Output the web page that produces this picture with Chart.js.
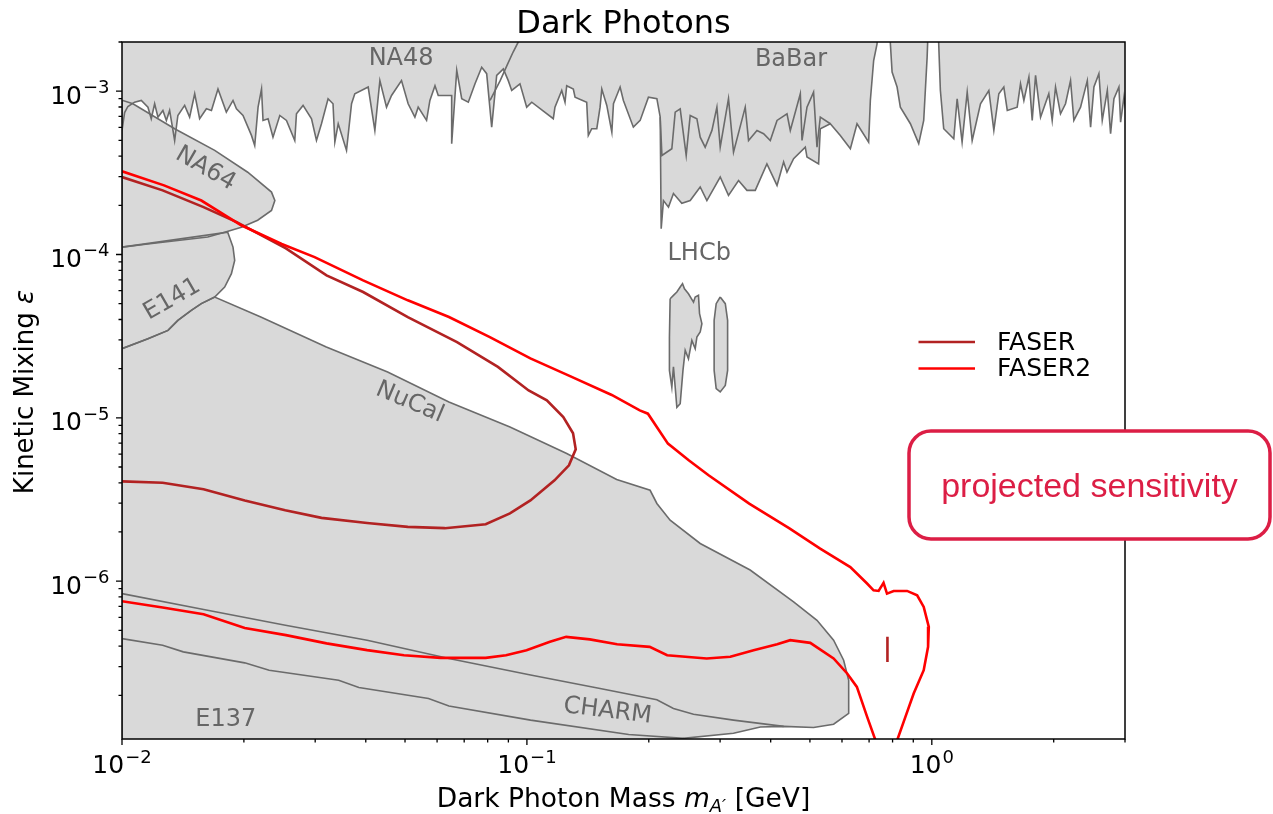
<!DOCTYPE html>
<html>
<head>
<meta charset="utf-8">
<title>Dark Photons</title>
<script src="https://cdn.jsdelivr.net/npm/chart.js@4.4.1/dist/chart.umd.min.js"></script>
<style>
  html, body { margin: 0; padding: 0; background: #fff; }
</style>
</head>
<body>
<canvas id="myChart" width="1273" height="814"></canvas>
<script>
// ---- data: dark photon mass [GeV] and kinetic mixing epsilon ----

// NA48 / BaBar / KLOE combined upper exclusion (lower edge, filled up to the top)
const topMass = [0.01, 0.01015, 0.01034, 0.01074, 0.01116, 0.01159, 0.01181, 0.01204, 0.01227, 0.01262, 0.01287, 0.01311, 0.01349, 0.01374, 0.01428, 0.01469, 0.01512, 0.01555, 0.01616, 0.01663, 0.01726, 0.0181, 0.0188, 0.01917, 0.0199, 0.02088, 0.02127, 0.02168, 0.02211, 0.0223, 0.02295, 0.0236, 0.02453, 0.02548, 0.02671, 0.02697, 0.028, 0.02938, 0.03022, 0.03109, 0.03228, 0.0332, 0.03355, 0.0342, 0.03585, 0.03689, 0.03758, 0.04055, 0.04212, 0.04334, 0.04501, 0.04631, 0.04901, 0.0509, 0.05289, 0.05389, 0.05652, 0.0576, 0.05929, 0.0604, 0.06518, 0.0652, 0.0671, 0.06902, 0.07166, 0.07444, 0.07733, 0.07955, 0.08185, 0.08421, 0.08745, 0.08995, 0.09172, 0.09614, 0.09988, 0.1028, 0.1162, 0.1173, 0.1219, 0.1242, 0.1254, 0.1302, 0.1315, 0.1405, 0.1418, 0.1446, 0.1488, 0.1516, 0.1531, 0.1575, 0.1621, 0.1636, 0.1699, 0.1731, 0.1832, 0.1904, 0.1996, 0.2094, 0.2134, 0.2146, 0.2174, 0.2237, 0.2301, 0.2413, 0.2531, 0.2679, 0.2783, 0.3002, 0.3147, 0.3332, 0.3495, 0.3664, 0.3915, 0.4147, 0.4305, 0.4389, 0.4557, 0.487, 0.4917, 0.5253, 0.5304, 0.5614, 0.5943, 0.6293, 0.6536, 0.6982, 0.705, 0.7184, 0.7324, 0.738, 0.7856, 0.7901, 0.7978, 0.8208, 0.8362, 0.8853, 0.9282, 0.955, 0.9737, 0.9826, 1.0354, 1.04, 1.05, 1.07, 1.133, 1.155, 1.188, 1.223, 1.258, 1.319, 1.383, 1.423, 1.464, 1.506, 1.536, 1.625, 1.656, 1.688, 1.737, 1.77, 1.804, 1.856, 1.945, 1.983, 2.021, 2.079, 2.139, 2.201, 2.243, 2.33, 2.421, 2.467, 2.514, 2.586, 2.636, 2.713, 2.764, 2.817, 2.898, 2.926, 2.982, 3.04];
const topEps = [5.75e-4, 7.4e-4, 8.06e-4, 8.56e-4, 8.77e-4, 7.98e-4, 6.78e-4, 8.37e-4, 6.93e-4, 7.62e-4, 6.62e-4, 7.62e-4, 4.99e-4, 7.1e-4, 8.18e-4, 6.93e-4, 9.64e-4, 6.78e-4, 7.8e-4, 7.62e-4, 1.03e-3, 7.44e-4, 8.77e-4, 7.8e-4, 7.1e-4, 5.36e-4, 4.65e-4, 7.98e-4, 1.03e-3, 6.62e-4, 6.78e-4, 5.23e-4, 7.1e-4, 6.62e-4, 4.99e-4, 7.27e-4, 8.18e-4, 6.78e-4, 4.99e-4, 6.32e-4, 8.99e-4, 8.37e-4, 4.88e-4, 6.32e-4, 4.34e-4, 8.37e-4, 9.64e-4, 1.06e-3, 5.75e-4, 1.16e-3, 7.98e-4, 9.41e-4, 1.16e-3, 8.37e-4, 6.93e-4, 7.98e-4, 6.62e-4, 8.77e-4, 1.08e-3, 9.41e-4, 9.41e-4, 4.77e-4, 1.34e-3, 8.99e-4, 8.56e-4, 1.11e-3, 1.4e-3, 1.28e-3, 6.02e-4, 1.25e-3, 1.37e-3, 1.16e-3, 1.01e-3, 1.11e-3, 7.98e-4, 8.56e-4, 6.78e-4, 7.98e-4, 1.01e-3, 8.56e-4, 1.08e-3, 1.03e-3, 9.19e-4, 8.56e-4, 5.36e-4, 5.89e-4, 5.89e-4, 7.98e-4, 1.03e-3, 8.18e-4, 5.61e-4, 8.37e-4, 1.06e-3, 8.77e-4, 6.02e-4, 6.62e-4, 9.19e-4, 8.99e-4, 6.93e-4, 1.44e-4, 2.14e-4, 1.95e-4, 2.36e-4, 2.06e-4, 2.14e-4, 2.59e-4, 2.14e-4, 2.98e-4, 2.3e-4, 2.84e-4, 2.47e-4, 2.47e-4, 3.59e-4, 2.65e-4, 3.68e-4, 3.19e-4, 3.86e-4, 4.54e-4, 3.95e-4, 3.59e-4, 5.89e-4, 6.32e-4, 5.36e-4, 4.44e-4, 6.32e-4, 4.88e-4, 8.77e-4, 1.54e-3, 1.95e-3, 3e-3, 3e-3, 1.95e-3, 1.31e-3, 1.06e-3, 7.98e-4, 6.32e-4, 4.77e-4, 6.62e-4, 1.61e-3, 3e-3, 3e-3, 1.95e-3, 1.01e-3, 5.89e-4, 5.11e-4, 8.99e-4, 4.88e-4, 9.86e-4, 4.99e-4, 8.37e-4, 1.01e-3, 5.75e-4, 9.64e-4, 1.06e-3, 7.62e-4, 7.98e-4, 1.11e-3, 8.77e-4, 1.22e-3, 6.62e-4, 1.25e-3, 6.93e-4, 9.64e-4, 6.62e-4, 1.06e-3, 7.27e-4, 8.37e-4, 1.16e-3, 6.62e-4, 7.98e-4, 1.16e-3, 6.02e-4, 1.06e-3, 1.28e-3, 6.62e-4, 1.01e-3, 5.49e-4, 8.99e-4, 1.06e-3, 6.46e-4, 9.19e-4, 6.46e-4];

// BaBar edge drawn inside the shaded band
const babarMass = [0.2134, 0.2155, 0.228, 0.2324, 0.2391, 0.2474, 0.2531, 0.2629, 0.2679, 0.2756, 0.2864, 0.2946, 0.3002, 0.3147, 0.3238, 0.3461, 0.3527, 0.37, 0.3842, 0.3991, 0.4147, 0.4389, 0.4472, 0.4734, 0.478, 0.4917, 0.5105, 0.5205, 0.5304, 0.5614];
const babarEps = [6.93e-4, 4.04e-4, 4.44e-4, 7.44e-4, 7.8e-4, 4.04e-4, 7.1e-4, 6.78e-4, 5.23e-4, 4.54e-4, 5.75e-4, 7.98e-4, 4.54e-4, 8.99e-4, 4.23e-4, 7.98e-4, 4.99e-4, 5.75e-4, 5.49e-4, 4.99e-4, 6.62e-4, 7.27e-4, 5.75e-4, 9.64e-4, 4.99e-4, 7.98e-4, 9.86e-4, 4.54e-4, 6.93e-4, 6.32e-4];

// NA48 end edge
const na48Mass = [0.0811, 0.0859, 0.0893, 0.0924, 0.0951, 0.0967];
const na48Eps = [8.77e-4, 1.16e-3, 1.44e-3, 1.73e-3, 1.99e-3, 2.4e-3];

// LHCb islands
const lhcbAMass = [0.2258, 0.2301, 0.2346, 0.2391, 0.2423, 0.245, 0.2506, 0.2579, 0.2604, 0.2653, 0.2669, 0.2705, 0.2679, 0.2629, 0.2604, 0.2555, 0.2506, 0.246, 0.2429, 0.2391, 0.2346, 0.2324, 0.2301, 0.228, 0.2249, 0.2249, 0.2258];
const lhcbAEps = [5.36e-5, 5.62e-5, 5.89e-5, 6.32e-5, 6.63e-5, 6.17e-5, 5.75e-5, 5.11e-5, 5.49e-5, 5.62e-5, 4.34e-5, 3.77e-5, 3.35e-5, 3.12e-5, 2.65e-5, 2.98e-5, 2.3e-5, 2.59e-5, 1.95e-5, 1.22e-5, 1.16e-5, 1.54e-5, 2.05e-5, 1.54e-5, 1.95e-5, 3.12e-5, 5.36e-5];
const lhcbBMass = [0.3002, 0.309, 0.3131, 0.3131, 0.309, 0.3002, 0.2934, 0.29, 0.29, 0.2934, 0.3002];
const lhcbBEps = [5.49e-5, 5.0e-5, 3.95e-5, 1.95e-5, 1.58e-5, 1.44e-5, 1.51e-5, 1.95e-5, 3.95e-5, 5.0e-5, 5.49e-5];

// NA64
const na64Mass = [0.01, 0.01064, 0.01349, 0.01694, 0.02044, 0.0234, 0.02385, 0.0234, 0.02163, 0.01972, 0.01793, 0.01628, 0.01157, 0.01, 0.01];
const na64Eps = [8.8e-4, 8.37e-4, 5.89e-4, 4.34e-4, 3.19e-4, 2.41e-4, 2.14e-4, 1.86e-4, 1.62e-4, 1.47e-4, 1.37e-4, 1.28e-4, 1.16e-4, 1.11e-4, 8.8e-4];

// E141
const e141Mass = [0.01, 0.01824, 0.0188, 0.01898, 0.01863, 0.01793, 0.01694, 0.0157, 0.01483, 0.01374, 0.01299, 0.01159, 0.01, 0.01];
const e141Eps = [1.11e-4, 1.37e-4, 1.11e-4, 9.2e-5, 7.63e-5, 6.32e-5, 5.49e-5, 5.0e-5, 4.55e-5, 3.95e-5, 3.43e-5, 3.05e-5, 2.65e-5, 1.11e-4];

// NuCal (with CHARM / E137 underneath)
const nucalMass = [0.01, 0.01159, 0.01299, 0.01374, 0.01483, 0.0157, 0.01694, 0.02202, 0.03196, 0.04529, 0.06418, 0.09082, 0.1254, 0.1666, 0.2015, 0.2094, 0.2258, 0.2679, 0.3559, 0.4557, 0.5205, 0.5721, 0.6057, 0.6233, 0.6233, 0.5721, 0.5105, 0.4305, 0.3771, 0.3238, 0.2436, 0.2134, 0.01, 0.01];
const nucalEps = [2.65e-5, 3.05e-5, 3.43e-5, 3.95e-5, 4.55e-5, 5.0e-5, 5.49e-5, 4.14e-5, 2.71e-5, 1.91e-5, 1.25e-5, 8.78e-6, 6.04e-6, 4.19e-6, 3.6e-6, 2.99e-6, 2.36e-6, 1.7e-6, 1.17e-6, 7.46e-7, 5.76e-7, 4.35e-7, 3.28e-7, 2.47e-7, 1.55e-7, 1.33e-7, 1.27e-7, 1.29e-7, 1.28e-7, 1.17e-7, 1.09e-7, 9e-8, 9e-8, 2.65e-5];

// CHARM upper edge, E137 upper edge
const charmMass = [0.01, 0.01591, 0.02533, 0.04031, 0.06418, 0.1021, 0.1516, 0.2094, 0.2301, 0.2579, 0.3238, 0.4305];
const charmEps = [8.39e-7, 6.7e-7, 5.37e-7, 4.35e-7, 3.36e-7, 2.66e-7, 2.2e-7, 1.88e-7, 1.66e-7, 1.53e-7, 1.41e-7, 1.29e-7];
const e137Mass = [0.01, 0.0126, 0.01417, 0.02009, 0.02309, 0.03428, 0.03846, 0.05715, 0.06418, 0.1021, 0.1784, 0.2436];
const e137Eps = [4.45e-7, 4.05e-7, 3.69e-7, 3.16e-7, 2.85e-7, 2.47e-7, 2.23e-7, 1.91e-7, 1.72e-7, 1.41e-7, 1.15e-7, 1.09e-7];

// FASER and FASER2 projected sensitivity
const faserMass = [0.01, 0.0126, 0.0159, 0.0192, 0.0254, 0.032, 0.0394, 0.0508, 0.0672, 0.0848, 0.101, 0.112, 0.123, 0.13, 0.132, 0.127, 0.117, 0.102, 0.0908, 0.0791, 0.0627, 0.0508, 0.0403, 0.0311, 0.0253, 0.0201, 0.0159, 0.0126, 0.01];
const faserEps = [2.98e-4, 2.47e-4, 1.95e-4, 1.58e-4, 1.09e-4, 7.45e-5, 5.89e-5, 4.14e-5, 2.91e-5, 2.05e-5, 1.47e-5, 1.28e-5, 1.01e-5, 8.04e-6, 6.41e-6, 5.12e-6, 4.14e-6, 3.12e-6, 2.6e-6, 2.23e-6, 2.11e-6, 2.15e-6, 2.27e-6, 2.44e-6, 2.72e-6, 3.12e-6, 3.65e-6, 4.0e-6, 4.08e-6];
const faserIslandMass = [0.777, 0.777];
const faserIslandEps = [4.56e-7, 3.2e-7];
const faser2Mass = [0.01, 0.0127, 0.0157, 0.0197, 0.0248, 0.0299, 0.0394, 0.0508, 0.0642, 0.081, 0.102, 0.129, 0.162, 0.19, 0.199, 0.223, 0.251, 0.281, 0.354, 0.444, 0.53, 0.629, 0.692, 0.718, 0.739, 0.76, 0.775, 0.805, 0.869, 0.92, 0.955, 0.983, 0.979, 0.955, 0.902, 0.861, 0.821, 0.804, 0.71, 0.726, 0.692, 0.653, 0.618, 0.572, 0.501, 0.447, 0.415, 0.363, 0.318, 0.278, 0.222, 0.201, 0.167, 0.143, 0.125, 0.114, 0.0998, 0.0888, 0.0791, 0.0612, 0.0497, 0.0403, 0.032, 0.0254, 0.0201, 0.0159, 0.0126, 0.01];
const faser2Eps = [3.23e-4, 2.65e-4, 2.14e-4, 1.51e-4, 1.16e-4, 9.64e-5, 6.94e-5, 5.24e-5, 4.14e-5, 3.12e-5, 2.31e-5, 1.78e-5, 1.38e-5, 1.11e-5, 1.06e-5, 6.95e-6, 5.49e-6, 4.45e-6, 2.98e-6, 2.11e-6, 1.58e-6, 1.22e-6, 9.67e-7, 8.79e-7, 8.71e-7, 9.75e-7, 8.39e-7, 8.71e-7, 8.71e-7, 8.19e-7, 6.95e-7, 5.25e-7, 3.96e-7, 2.85e-7, 2.05e-7, 1.48e-7, 1.06e-7, 8.0e-8, 8.0e-8, 1.06e-7, 1.48e-7, 2.25e-7, 2.72e-7, 3.36e-7, 4.19e-7, 4.35e-7, 4.11e-7, 3.78e-7, 3.44e-7, 3.36e-7, 3.52e-7, 3.96e-7, 4.11e-7, 4.4e-7, 4.56e-7, 4.25e-7, 3.78e-7, 3.52e-7, 3.39e-7, 3.39e-7, 3.52e-7, 3.78e-7, 4.16e-7, 4.67e-7, 5.17e-7, 6.27e-7, 6.89e-7, 7.54e-7];

// experiment labels
const labelText = ['NA48', 'BaBar', 'LHCb', 'NA64', 'E141', 'NuCal', 'CHARM', 'E137'];
const labelMass = [0.0489, 0.449, 0.2664, 0.01607, 0.0133, 0.0514, 0.1582, 0.01804];
const labelEps = [1.585e-3, 1.563e-3, 1.009e-4, 3.35e-4, 5.31e-5, 1.244e-5, 1.6e-7, 1.41e-7];
const labelAngle = [0, 0, 0, 30, -30, 23, 7, 0];

// axes
const xTickVals = [0.01, 0.1, 1];
const xTickExp = ['\u22122', '\u22121', '0'];
const yTickVals = [1e-6, 1e-5, 1e-4, 1e-3];
const yTickExp = ['\u22126', '\u22125', '\u22124', '\u22123'];

const legendNames = ['FASER', 'FASER2'];
const FASER_COL = '#b22222', FASER2_COL = '#ff0000';
const GRAY_FILL = '#d9d9d9', GRAY_LINE = '#6b6b6b', LABEL_COL = '#666666';
const FONT = '"DejaVu Sans", sans-serif';

function pts(xs, ys) { return xs.map((x, i) => ({ x: x, y: ys[i] })); }

function region(data, fill) {
  return { data: data, showLine: true, fill: fill, backgroundColor: GRAY_FILL,
           borderColor: GRAY_LINE, borderWidth: 1.6, pointRadius: 0, pointHoverRadius: 0, clip: 0 };
}
function curve(data, color, width) {
  return { data: data, showLine: true, fill: false, borderColor: color,
           borderWidth: width, pointRadius: 0, pointHoverRadius: 0, clip: 0 };
}

function sciLabel(ctx, exp, x, base, align) {
  ctx.font = '25px ' + FONT;
  const w1 = ctx.measureText('10').width;
  ctx.font = '18px ' + FONT;
  const w2 = ctx.measureText(exp).width;
  const total = w1 + 1 + w2;
  const left = align === 'center' ? x - total / 2 : x - total;
  ctx.textAlign = 'left';
  ctx.font = '25px ' + FONT;
  ctx.fillText('10', left, base);
  ctx.font = '18px ' + FONT;
  ctx.fillText(exp, left + w1 + 1, base - 10.5);
}

// draws several font runs centred on (0, 0)
function runs(ctx, parts) {
  let total = 0;
  parts.forEach(p => { ctx.font = p.font; p.w = ctx.measureText(p.t).width; total += p.w; });
  let cx = -total / 2;
  ctx.textAlign = 'left';
  parts.forEach(p => { ctx.font = p.font; ctx.fillText(p.t, cx, p.dy || 0); cx += p.w; });
}

const decor = {
  id: 'decor',
  afterDraw(chart) {
    const ctx = chart.ctx, a = chart.chartArea;
    const xs = chart.scales.x, ys = chart.scales.y;
    ctx.save();

    // experiment labels
    ctx.fillStyle = LABEL_COL;
    ctx.font = '24px ' + FONT;
    ctx.textAlign = 'center';
    ctx.textBaseline = 'middle';
    labelText.forEach((t, i) => {
      ctx.save();
      ctx.translate(xs.getPixelForValue(labelMass[i]), ys.getPixelForValue(labelEps[i]));
      ctx.rotate(labelAngle[i] * Math.PI / 180);
      ctx.fillText(t, 0, 0);
      ctx.restore();
    });
    ctx.textBaseline = 'alphabetic';

    // frame
    ctx.strokeStyle = '#000';
    ctx.lineWidth = 1.5;
    ctx.strokeRect(a.left, a.top, a.right - a.left, a.bottom - a.top);

    // ticks
    ctx.lineWidth = 1.3;
    ctx.beginPath();
    for (let k = -2; k <= 0; k++) {
      for (let m = 1; m <= 9; m++) {
        const v = m * Math.pow(10, k);
        if (v < xs.min - 1e-12 || v > xs.max) continue;
        const px = xs.getPixelForValue(v);
        ctx.moveTo(px, a.bottom);
        ctx.lineTo(px, a.bottom + (m === 1 ? 6 : 3.5));
      }
    }
    for (let k = -7; k <= -3; k++) {
      for (let m = 1; m <= 9; m++) {
        const v = m * Math.pow(10, k);
        if (v < ys.min || v > ys.max * 1.0001) continue;
        const py = ys.getPixelForValue(v);
        ctx.moveTo(a.left, py);
        ctx.lineTo(a.left - (m === 1 ? 6 : 3.5), py);
      }
    }
    ctx.stroke();

    // tick labels
    ctx.fillStyle = '#000';
    xTickVals.forEach((v, i) => sciLabel(ctx, xTickExp[i], xs.getPixelForValue(v), 773, 'center'));
    yTickVals.forEach((v, i) => sciLabel(ctx, yTickExp[i], a.left - 12.5, ys.getPixelForValue(v) + 12.5, 'right'));

    // title
    ctx.save();
    ctx.translate((a.left + a.right) / 2, 32.5);
    runs(ctx, [{ t: 'Dark Photons', font: '32px ' + FONT }]);
    ctx.restore();

    // x axis title
    ctx.save();
    ctx.translate((a.left + a.right) / 2, 806.5);
    runs(ctx, [
      { t: 'Dark Photon Mass ', font: '26.5px ' + FONT },
      { t: 'm', font: 'italic 26.5px ' + FONT },
      { t: 'A\u2032', font: 'italic 18px ' + FONT, dy: 5 },
      { t: ' [GeV]', font: '26.5px ' + FONT }
    ]);
    ctx.restore();

    // y axis title
    ctx.save();
    ctx.translate(32.5, 392);
    ctx.rotate(-Math.PI / 2);
    runs(ctx, [
      { t: 'Kinetic Mixing ', font: '26px ' + FONT },
      { t: '\u03b5', font: 'italic 26px ' + FONT }
    ]);
    ctx.restore();

    // legend
    const legCols = [FASER_COL, FASER2_COL];
    legendNames.forEach((name, i) => {
      const ly = 342 + i * 26.5;
      ctx.strokeStyle = legCols[i];
      ctx.lineWidth = 2.5;
      ctx.beginPath();
      ctx.moveTo(918.5, ly);
      ctx.lineTo(975, ly);
      ctx.stroke();
      ctx.fillStyle = '#000';
      ctx.font = '25px ' + FONT;
      ctx.textAlign = 'left';
      ctx.textBaseline = 'middle';
      ctx.fillText(name, 997, ly + 1);
    });
    ctx.textBaseline = 'alphabetic';

    // annotation box
    ctx.beginPath();
    ctx.roundRect(909, 431, 361, 108, 22);
    ctx.fillStyle = '#fff';
    ctx.fill();
    ctx.strokeStyle = '#dc1e45';
    ctx.lineWidth = 3.5;
    ctx.stroke();
    ctx.fillStyle = '#dc1e45';
    ctx.font = '34px "Liberation Sans", Arial, sans-serif';
    ctx.textAlign = 'center';
    ctx.fillText('projected sensitivity', 1089.5, 497);

    ctx.restore();
  }
};

new Chart('myChart', {
  type: 'scatter',
  data: {
    datasets: [
      curve(pts(faser2Mass, faser2Eps), FASER2_COL, 2.6),
      curve(pts(faserMass, faserEps), FASER_COL, 2.6),
      curve(pts(faserIslandMass, faserIslandEps), FASER_COL, 2.6),
      region(pts(lhcbAMass, lhcbAEps), 'shape'),
      region(pts(lhcbBMass, lhcbBEps), 'shape'),
      curve(pts(na48Mass, na48Eps), GRAY_LINE, 1.6),
      curve(pts(babarMass, babarEps), GRAY_LINE, 1.6),
      region(pts(topMass, topEps), 'end'),
      region(pts(na64Mass, na64Eps), 'shape'),
      region(pts(e141Mass, e141Eps), 'shape'),
      curve(pts(charmMass, charmEps), GRAY_LINE, 1.6),
      curve(pts(e137Mass, e137Eps), GRAY_LINE, 1.6),
      region(pts(nucalMass, nucalEps), 'shape')
    ]
  },
  options: {
    responsive: false,
    animation: false,
    events: [],
    layout: { padding: { left: 0, top: 42, right: 148, bottom: 0 } },
    plugins: {
      legend: { display: false },
      tooltip: { enabled: false },
      filler: { drawTime: 'beforeDatasetsDraw' }
    },
    scales: {
      x: {
        type: 'logarithmic', min: 0.01, max: 3,
        grid: { display: false }, border: { display: false }, ticks: { display: false },
        afterFit: s => { s.height = 75; }
      },
      y: {
        type: 'logarithmic', min: 1.08e-7, max: 2e-3,
        grid: { display: false }, border: { display: false }, ticks: { display: false },
        afterFit: s => { s.width = 122; }
      }
    }
  },
  plugins: [decor]
});
</script>
</body>
</html>
